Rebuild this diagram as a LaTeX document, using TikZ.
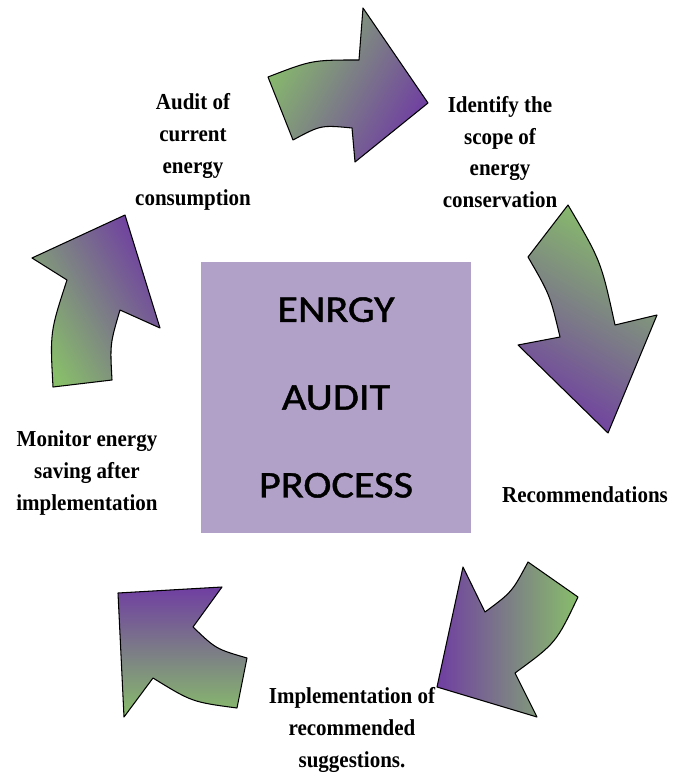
\documentclass[tikz,border=0pt]{standalone}
\usepackage{fontspec}
\newfontfamily\lblfont[FakeStretch=0.92]{Liberation Serif}
\newfontfamily\boxfont[FakeStretch=1.12,FakeBold=1.2]{Carlito}
\definecolor{arrgreen}{RGB}{136,190,106}
\definecolor{arrpurple}{RGB}{112,62,162}
\definecolor{boxpurple}{RGB}{177,160,200}

\begin{document}
\begin{tikzpicture}[x=0.02cm,y=-0.02cm,
  shaft/.style={draw=black,line width=0.6pt,line join=round,top color=arrgreen,bottom color=arrpurple},
  lbl/.style={align=center,font=\lblfont\bfseries\fontsize{13}{18.1}\selectfont},
  centerbox/.style={fill=boxpurple,minimum width=5.4cm,minimum height=5.42cm,inner sep=0pt,align=center,font=\boxfont\fontsize{21.5}{50}\selectfont}]
\useasboundingbox (0,0) rectangle (683,776);
% centre square
\node[centerbox] (process) at (336,397.5) {ENRGY\\AUDIT\\PROCESS};
% curved arrows, clockwise from the top
\draw[shaft,shading angle=60] (268,77) .. controls (312,60) .. (359,60) -- (363,8) -- (428,103) -- (355,162) -- (352,128) .. controls (321,125) .. (293,140) -- cycle;
\draw[shaft,shading angle=-30] (568,205) -- (528,257) .. controls (550,295) .. (560,337) -- (518,345) -- (608,433) -- (657,315) -- (615,325) .. controls (601,261) .. (568,205) -- cycle;
\draw[shaft,shading angle=-90] (528,562) -- (578,597) .. controls (556,643) .. (515,673) -- (537,717) -- (437,687) -- (463,567) -- (485,612) .. controls (512,592) .. (528,562) -- cycle;
\draw[shaft,shading angle=180] (237,708) -- (247,658) .. controls (216,649) .. (193,627) -- (222,587) -- (118,593) -- (124,717) -- (153,678) .. controls (192,702) .. (237,708) -- cycle;
\draw[shaft,shading angle=120] (53,387) -- (112,380) .. controls (110,344) .. (120,310) -- (160,328) -- (125,215) -- (32,258) -- (67,280) .. controls (50,332) .. (53,387) -- cycle;
% step labels
\node[lbl] (audit) at (193,152) {Audit of\\current\\energy\\consumption};
\node[lbl] (scope) at (500,152) {Identify the\\scope of\\energy\\conservation};
\node[lbl] (recom) at (585,495) {Recommendations};
\node[lbl] (impl) at (352,730) {Implementation of\\recommended\\suggestions.};
\node[lbl] (monitor) at (87,473) {Monitor energy\\saving after\\implementation};
\end{tikzpicture}
\end{document}
